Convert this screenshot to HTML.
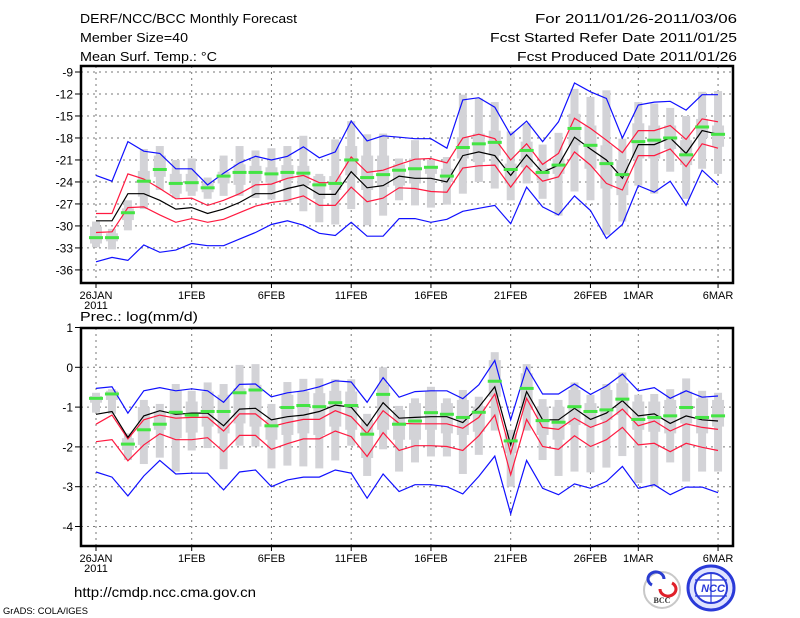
<!DOCTYPE html>
<html><head><meta charset="utf-8">
<style>
html,body{margin:0;padding:0;background:#fff;}
svg{display:block;font-family:"Liberation Sans",sans-serif;}
</style></head>
<body>
<svg id="chart" width="800" height="618" viewBox="0 0 800 618" xmlns="http://www.w3.org/2000/svg">
<rect width="800" height="618" fill="#fff"/>
<g font-size="13" fill="#000">
<text x="80" y="23" textLength="217" lengthAdjust="spacingAndGlyphs">DERF/NCC/BCC Monthly Forecast</text>
<text x="80" y="42" textLength="108" lengthAdjust="spacingAndGlyphs">Member Size=40</text>
<text x="80" y="61" textLength="137" lengthAdjust="spacingAndGlyphs">Mean Surf. Temp.: °C</text>
<text x="737" y="23" text-anchor="end" textLength="202" lengthAdjust="spacingAndGlyphs">For 2011/01/26-2011/03/06</text>
<text x="737" y="42" text-anchor="end" textLength="247" lengthAdjust="spacingAndGlyphs">Fcst Started Refer Date 2011/01/25</text>
<text x="737" y="61" text-anchor="end" textLength="220" lengthAdjust="spacingAndGlyphs">Fcst Produced Date 2011/01/26</text>
</g>
<text x="80" y="321" font-size="13" textLength="118" lengthAdjust="spacingAndGlyphs">Prec.: log(mm/d)</text>
<g id="top"></g>
<g id="bot"></g>
<g>
<text x="74" y="597" font-size="14" textLength="182" lengthAdjust="spacingAndGlyphs">http://cmdp.ncc.cma.gov.cn</text>
<text x="3" y="614" font-size="9" textLength="85" lengthAdjust="spacingAndGlyphs">GrADS: COLA/IGES</text>
<g>
<circle cx="662" cy="590" r="18" fill="#fff" stroke="#c8c8c8" stroke-width="2"/>
<path d="M652 585 a8 7 0 1 1 12 -6" fill="none" stroke="#2a3dd0" stroke-width="3"/>
<path d="M672 583 a8 7 0 1 1 -12 6" fill="none" stroke="#e0202a" stroke-width="3"/>
<text x="662" y="603" font-size="8" text-anchor="middle" font-family="Liberation Serif,serif" font-weight="bold" fill="#333">BCC</text>
</g>
<g>
<ellipse cx="711" cy="588" rx="23" ry="22" fill="#dfe3ff" stroke="#2a3ad8" stroke-width="3"/>
<ellipse cx="711" cy="588" rx="16" ry="15" fill="#fff" stroke="#2a3ad8" stroke-width="2"/>
<path d="M695 580 H727 M695 596 H727 M711 573 V603" stroke="#2a3ad8" stroke-width="1.2"/>
<text x="713" y="592" font-size="11" font-weight="bold" font-style="italic" text-anchor="middle" fill="#2a3ad8">NCC</text>
</g>
</g>
</svg>
<script>
// ---------- shared data ----------
const dayLabels = ["26JAN","1FEB","6FEB","11FEB","16FEB","21FEB","26FEB","1MAR","6MAR"];
const dayLabelIdx = [0,6,11,16,21,26,31,34,39];

// ---------- temperature data ----------
const tTicks = [-9,-12,-15,-18,-21,-24,-27,-30,-33,-36];
const tMaxLine = [-23.1,-23.9,-18.5,-19.8,-20.1,-22.2,-22.2,-24.4,-22.8,-21.4,-20.5,-21.0,-20.5,-19.2,-20.7,-19.9,-15.7,-18.4,-17.7,-17.9,-18.1,-18.1,-19.4,-12.8,-12.5,-13.8,-17.6,-15.7,-18.5,-15.8,-10.5,-11.7,-12.6,-18.0,-13.5,-13.1,-13.0,-14.2,-12.1,-12.1];
const tMinLine = [-34.9,-34.3,-34.7,-32.6,-33.6,-33.3,-32.4,-32.7,-32.7,-31.8,-30.9,-29.8,-29.3,-29.9,-31.0,-31.3,-29.5,-31.4,-31.4,-29.0,-29.0,-29.5,-29.1,-28.0,-27.6,-27.2,-29.7,-24.7,-27.4,-28.5,-25.9,-27.9,-31.7,-29.8,-24.5,-25.4,-23.9,-27.2,-22.4,-24.4];
const tUpper = [-28.3,-28.3,-22.9,-23.6,-24.9,-26.3,-26.2,-27.2,-26.5,-25.6,-24.4,-24.3,-23.5,-23.1,-24.1,-24.1,-20.6,-22.7,-22.4,-21.6,-20.9,-20.8,-21.4,-18.0,-17.5,-18.1,-21.0,-18.8,-21.6,-20.1,-15.3,-16.7,-18.3,-20.0,-17.0,-17.0,-16.3,-18.2,-15.4,-15.8];
const tLower = [-30.9,-30.8,-27.5,-27.4,-28.5,-29.5,-29.0,-29.5,-29.1,-28.2,-27.3,-26.8,-26.5,-25.9,-27.2,-27.2,-24.7,-26.7,-26.2,-24.8,-24.9,-25.3,-25.4,-22.1,-21.8,-21.7,-24.7,-21.8,-23.9,-23.3,-19.9,-21.7,-24.2,-25.1,-20.4,-20.4,-19.5,-21.9,-18.8,-19.4];
const tMean = [-29.3,-29.3,-25.6,-25.6,-26.5,-27.7,-27.5,-28.3,-27.7,-26.8,-25.6,-25.6,-24.9,-24.4,-25.7,-25.7,-22.6,-24.8,-24.5,-23.2,-23.5,-23.5,-24.0,-20.4,-19.9,-20.4,-23.1,-20.3,-22.7,-21.7,-17.9,-19.5,-21.0,-23.5,-18.9,-18.9,-18.0,-20.1,-17.0,-17.5];
const tBoxHi = [-29.4,-30.4,-26.5,-19.5,-19.1,-21.0,-20.8,-23.4,-20.4,-19.1,-19.7,-19.4,-19.1,-17.7,-22.9,-18.2,-15.7,-17.5,-17.4,-20.8,-18.3,-21.0,-20.6,-12.1,-12.6,-13.1,-17.1,-16.0,-18.9,-17.3,-11.3,-12.4,-11.5,-18.1,-13.1,-13.3,-13.9,-15.0,-11.7,-11.6];
const tQ3 = [-30.1,-31.0,-27.6,-22.5,-20.4,-22.9,-22.9,-24.1,-22.6,-21.6,-21.8,-22.0,-21.7,-21.8,-23.2,-23.2,-19.1,-20.4,-20.4,-21.6,-20.8,-21.9,-22.2,-17.9,-17.4,-17.0,-21.5,-18.5,-22.1,-20.8,-14.7,-16.3,-19.0,-21.0,-16.0,-16.3,-16.3,-18.3,-15.4,-16.3];
const tMedian = [-31.6,-31.6,-28.2,-23.9,-22.3,-24.2,-24.1,-24.8,-23.2,-22.7,-22.7,-22.9,-22.7,-22.8,-24.4,-24.2,-21.0,-23.4,-23.0,-22.4,-22.2,-22.0,-23.2,-19.3,-18.8,-18.6,-22.3,-19.7,-22.7,-21.7,-16.7,-19.0,-21.5,-23.0,-18.5,-18.3,-18.0,-20.3,-16.5,-17.5];
const tQ1 = [-32.4,-32.1,-29.2,-26.0,-23.3,-25.6,-25.3,-25.4,-24.2,-24.4,-23.9,-24.1,-23.7,-24.5,-26.3,-25.1,-23.1,-25.1,-24.7,-24.5,-24.2,-22.9,-24.0,-20.8,-21.3,-20.4,-24.2,-22.0,-23.8,-22.9,-19.0,-22.2,-24.9,-25.8,-20.8,-20.8,-19.5,-21.7,-18.0,-19.2];
const tBoxLo = [-32.9,-33.2,-30.6,-27.7,-25.1,-26.2,-25.9,-26.3,-25.9,-25.9,-26.2,-26.4,-26.8,-28.0,-29.5,-29.8,-27.7,-29.9,-28.6,-26.5,-27.2,-27.5,-27.1,-25.6,-24.0,-24.9,-26.5,-24.2,-26.3,-28.6,-25.3,-26.5,-31.2,-29.4,-24.5,-25.6,-22.6,-26.3,-22.2,-22.9];

// ---------- precipitation data ----------
const pTicks = [1,0,-1,-2,-3,-4];
const pMaxLine = [-0.53,-0.49,-1.15,-0.59,-0.51,-0.59,-0.54,-0.59,-0.88,-0.43,-0.42,-0.74,-0.64,-0.59,-0.49,-0.34,-0.37,-0.88,-0.26,-0.75,-0.61,-0.59,-0.59,-0.79,-0.44,0.17,-1.32,0.0,-0.67,-0.67,-0.42,-0.68,-0.47,-0.17,-0.59,-0.51,-0.78,-0.59,-0.75,-0.72];
const pMinLine = [-2.63,-2.76,-3.23,-2.73,-2.34,-2.68,-2.66,-2.66,-3.08,-2.63,-2.58,-3.0,-2.83,-2.76,-2.76,-2.58,-2.66,-3.29,-2.68,-3.12,-2.95,-2.95,-3.0,-3.18,-2.74,-2.23,-3.68,-2.34,-3.04,-3.2,-2.93,-3.04,-2.87,-2.49,-3.04,-2.95,-3.2,-3.01,-3.01,-3.15];
const pUpper = [-1.43,-1.2,-1.8,-1.32,-1.2,-1.28,-1.26,-1.26,-1.6,-1.17,-1.17,-1.49,-1.39,-1.31,-1.31,-1.09,-1.24,-1.66,-1.09,-1.41,-1.42,-1.42,-1.42,-1.53,-1.26,-0.67,-2.16,-0.78,-1.51,-1.56,-1.28,-1.51,-1.36,-1.05,-1.47,-1.35,-1.6,-1.42,-1.51,-1.56];
const pLower = [-1.87,-1.82,-2.35,-1.95,-1.67,-1.82,-1.82,-1.77,-2.12,-1.71,-1.71,-2.06,-1.92,-1.8,-1.8,-1.6,-1.74,-2.24,-1.64,-2.09,-1.97,-1.97,-1.99,-2.09,-1.72,-1.2,-2.7,-1.31,-1.99,-2.06,-1.72,-1.99,-1.82,-1.51,-1.95,-1.91,-2.12,-1.91,-2.01,-2.09];
const pMean = [-1.18,-1.11,-1.76,-1.22,-1.09,-1.18,-1.15,-1.15,-1.47,-1.05,-1.03,-1.32,-1.24,-1.2,-1.11,-0.95,-1.0,-1.47,-0.89,-1.28,-1.26,-1.24,-1.24,-1.39,-1.0,-0.49,-1.95,-0.61,-1.32,-1.32,-1.03,-1.31,-1.15,-0.84,-1.22,-1.17,-1.41,-1.22,-1.32,-1.35];
const pBoxHi = [-0.64,-0.55,-1.66,-0.82,-0.92,-0.42,-0.59,-0.38,-0.42,0.06,0.08,-0.92,-0.37,-0.29,-0.28,-0.30,-0.30,-1.17,0.0,-0.97,-0.78,-0.49,-0.78,-0.57,-0.74,0.38,-1.57,0.08,-0.80,-0.82,-0.38,-0.69,-0.42,-0.13,-0.69,-0.67,-0.55,-0.28,-0.59,-0.64];
const pQ3 = [-0.72,-0.59,-1.78,-1.00,-1.11,-0.57,-0.86,-0.61,-0.69,-0.53,-0.44,-1.32,-0.69,-0.61,-0.65,-0.59,-0.61,-1.32,-0.44,-1.07,-0.90,-0.61,-0.90,-0.82,-0.99,0.18,-1.66,-0.15,-0.99,-0.99,-0.57,-0.90,-0.57,-0.40,-0.86,-0.86,-0.82,-0.61,-0.78,-0.82];
const pMedian = [-0.78,-0.67,-1.93,-1.57,-1.43,-1.13,-1.20,-1.11,-1.11,-0.64,-0.57,-1.47,-1.01,-0.96,-0.99,-0.89,-0.96,-1.68,-0.68,-1.43,-1.35,-1.14,-1.18,-1.26,-1.13,-0.35,-1.85,-0.53,-1.34,-1.38,-0.99,-1.11,-1.07,-0.80,-1.31,-1.26,-1.22,-1.01,-1.26,-1.22];
const pQ1 = [-0.89,-0.82,-2.08,-1.95,-1.57,-1.78,-1.64,-1.49,-1.66,-1.41,-1.49,-1.82,-1.70,-1.66,-1.70,-1.49,-1.57,-2.28,-1.57,-1.82,-1.82,-1.57,-1.66,-1.70,-1.62,-0.74,-2.16,-1.07,-1.70,-1.82,-1.45,-1.47,-1.32,-1.20,-1.57,-1.62,-1.66,-1.41,-1.66,-1.49];
const pBoxLo = [-1.14,-1.17,-2.33,-2.43,-2.27,-2.62,-2.09,-2.03,-2.56,-1.97,-1.99,-2.54,-2.47,-2.49,-2.54,-2.34,-1.97,-2.73,-2.06,-2.62,-2.39,-2.24,-2.24,-2.68,-2.20,-1.59,-3.0,-1.59,-2.33,-2.73,-2.62,-2.64,-2.52,-2.23,-2.91,-3.0,-2.39,-2.87,-2.62,-2.62];

const NS = "http://www.w3.org/2000/svg";
function mk(parent, tag, attrs){ const e=document.createElementNS(NS,tag); for(const k in attrs) e.setAttribute(k,attrs[k]); parent.appendChild(e); return e; }
function xDay(d){ return 96 + d*15.95; }

function drawPanel(g, cfg){
  const yS = v => cfg.y0 + (cfg.v0 - v)*cfg.ppu;
  cfg.ticks.forEach(t=>{
    const y=yS(t);
    const gl=mk(g,"line",{x1:81,x2:733,y1:y,y2:y,stroke:"#777","stroke-dasharray":"2,4","stroke-width":1});
    
    
    const tk=mk(g,"line",{x1:75,x2:81,y1:y,y2:y,stroke:"#000"});
    
    
    const tx=mk(g,"text",{x:73,y:y+4.5,"font-size":12,"text-anchor":"end"});
    tx.textContent=String(t);
    
    
  });
  dayLabelIdx.forEach((d,i)=>{
    const x=xDay(d);
    const gl=mk(g,"line",{x1:x,x2:x,y1:cfg.top,y2:cfg.bottom,stroke:"#777","stroke-dasharray":"2,4","stroke-width":1});
    
    
    const tk=mk(g,"line",{x1:x,x2:x,y1:cfg.bottom,y2:cfg.bottom+5,stroke:"#000"});
    
    
    const tx=mk(g,"text",{x:x,y:cfg.bottom+16,"font-size":11,"text-anchor":"middle"});
    tx.textContent=dayLabels[i];
    
    
  });
  const yr=mk(g,"text",{x:96,y:cfg.bottom+26,"font-size":11,"text-anchor":"middle"});
  yr.textContent="2011";
  
  
  for(let d=0; d<cfg.med.length; d++){
    const x=xDay(d);
    const w=mk(g,"rect",{x:x-4,y:yS(cfg.hi[d]),width:8,height:Math.max(1,yS(cfg.lo[d])-yS(cfg.hi[d])),fill:"#d3d3d7"});
    
    
    const b=mk(g,"rect",{x:x-6,y:yS(cfg.q3[d]),width:12,height:Math.max(1,yS(cfg.q1[d])-yS(cfg.q3[d])),fill:"#d3d3d7"});
    
    
  }
  const series=[[cfg.maxL,"#1010ff","max-line"],[cfg.minL,"#1010ff","min-line"],[cfg.up,"#ff1a40","upper-line"],[cfg.low,"#ff1a40","lower-line"],[cfg.mean,"#000","ensemble-mean-line"]];
  series.forEach(s=>{
    const pts=s[0].map((v,d)=>xDay(d).toFixed(1)+","+yS(v).toFixed(1)).join(" ");
    const pl=mk(g,"polyline",{points:pts,fill:"none",stroke:s[1],"stroke-width":1.2});
    
    
  });
  for(let d=0; d<cfg.med.length; d++){
    const m=mk(g,"rect",{x:xDay(d)-7,y:yS(cfg.med[d])-1.5,width:14,height:3,fill:"#44e444"});
    
    
  }
  const fr=mk(g,"rect",{x:81,y:cfg.top,width:652,height:cfg.bottom-cfg.top,fill:"none",stroke:"#000","stroke-width":2.5});
  
  
}

drawPanel(document.getElementById("top"),{top:66,bottom:283,y0:72,v0:-9,ppu:7.33,ticks:tTicks,
  hi:tBoxHi,q3:tQ3,med:tMedian,q1:tQ1,lo:tBoxLo,maxL:tMaxLine,minL:tMinLine,up:tUpper,low:tLower,mean:tMean});
drawPanel(document.getElementById("bot"),{top:328,bottom:546,y0:367.3,v0:0,ppu:39.8,ticks:pTicks,
  hi:pBoxHi,q3:pQ3,med:pMedian,q1:pQ1,lo:pBoxLo,maxL:pMaxLine,minL:pMinLine,up:pUpper,low:pLower,mean:pMean});
</script>
</body></html>
